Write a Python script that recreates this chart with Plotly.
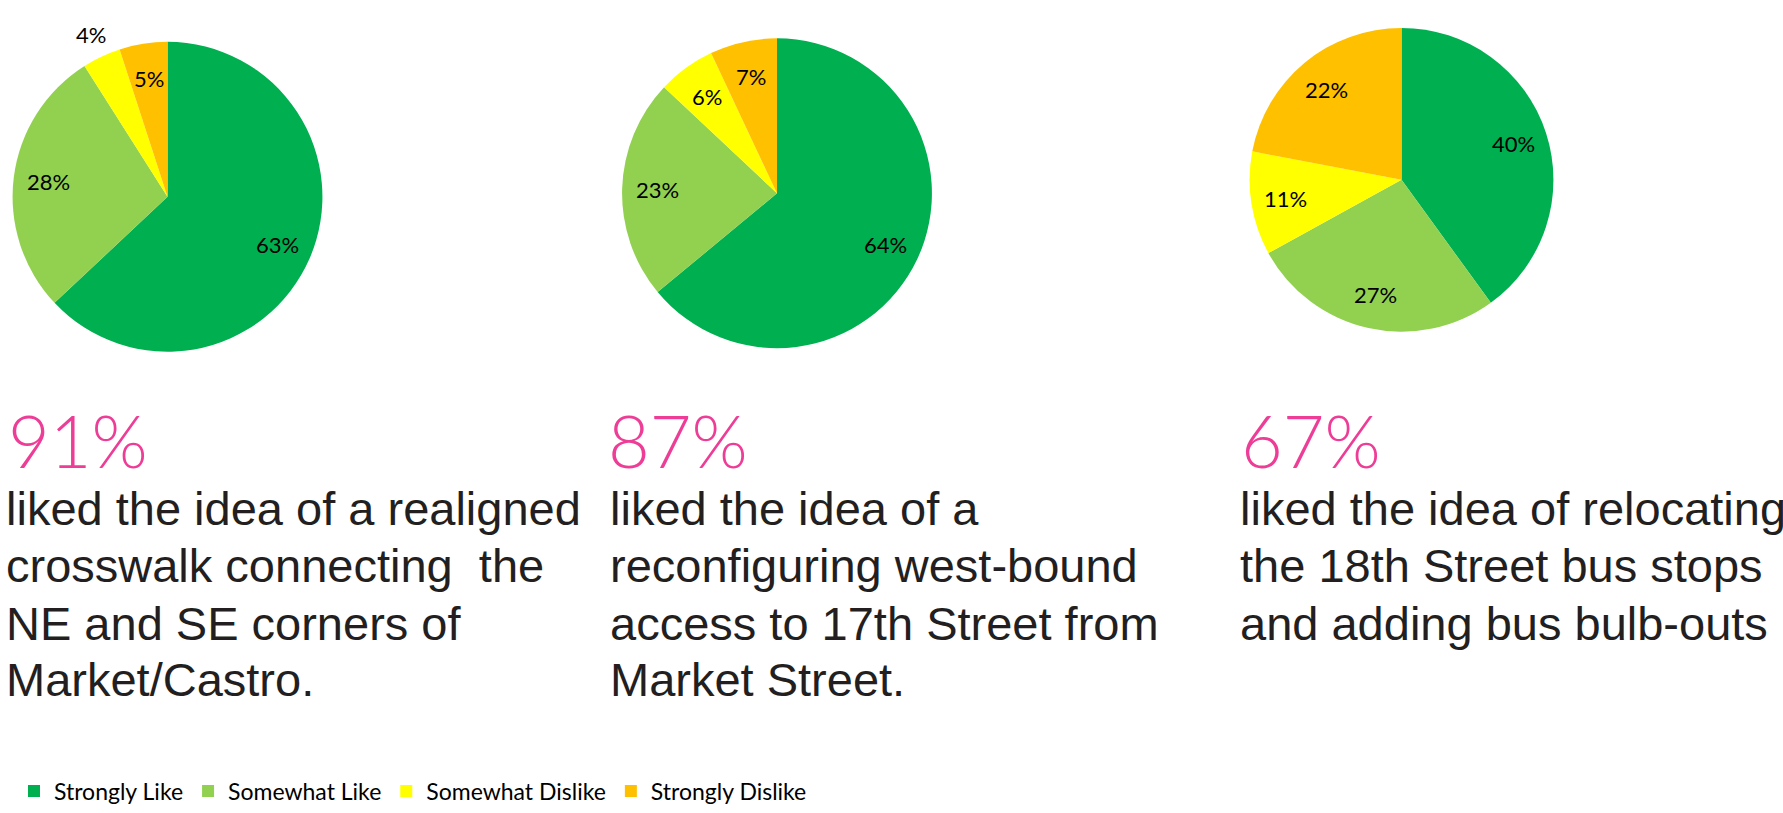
import math
import plotly.graph_objects as go

W, H = 1783, 813

# Response categories and colours
categories = ["Strongly Like", "Somewhat Like", "Somewhat Dislike", "Strongly Dislike"]
colors = ["#00B050", "#92D050", "#FFFF00", "#FFC000"]

# Survey results per proposal (percent)
crosswalk = [63, 28, 4, 5]
westbound = [64, 23, 6, 7]
bus_stops = [40, 27, 11, 22]

# Headline share that liked each idea
headline = ["91%", "87%", "67%"]
captions = [
    ["liked the idea of a realigned", "crosswalk connecting  the", "NE and SE corners of", "Market/Castro."],
    ["liked the idea of a", "reconfiguring west-bound", "access to 17th Street from", "Market Street."],
    ["liked the idea of relocating", "the 18th Street bus stops", "and adding bus bulb-outs"],
]

# Pie placement in pixels: centre x, centre y, radius
pie_boxes = [(167.5, 197.5, 155.5), (777, 194, 155.5), (1401.5, 180.5, 152.5)]
# Slices whose label sits outside the pie
outside = [[False, False, True, False], [False] * 4, [False] * 4]

head_x = [6, 606, 1239]
text_x = [4, 608, 1238]
baselines = [528, 585, 643, 700]

fig = go.Figure()
annotations = []


def px(x):
    return x / W


def py(y):
    return 1 - y / H


for i, vals in enumerate([crosswalk, westbound, bus_stops]):
    cx, cy, r = pie_boxes[i]
    fig.add_trace(go.Pie(
        labels=categories,
        values=vals,
        sort=False,
        direction="clockwise",
        rotation=0,
        marker=dict(colors=colors, line=dict(width=0)),
        textinfo="none",
        domain=dict(x=[px(cx - r), px(cx + r)], y=[py(cy + r), py(cy - r)]),
        showlegend=(i == 0),
        hoverinfo="label+percent",
    ))
    # percentage labels at the middle angle of each slice
    total = sum(vals)
    cum = 0
    for j, v in enumerate(vals):
        mid = (cum + v / 2) / total * 2 * math.pi
        cum += v
        f = 1.16 if outside[i][j] else 0.77
        annotations.append(dict(
            x=px(cx + f * r * math.sin(mid)), y=py(cy - f * r * math.cos(mid)),
            xref="paper", yref="paper", xanchor="center", yanchor="middle",
            showarrow=False, text=f"{v}%",
            font=dict(family="Lato", size=22, color="#000000"),
        ))

for i in range(3):
    annotations.append(dict(
        x=px(head_x[i]), y=py(396), xref="paper", yref="paper",
        xanchor="left", yanchor="top", showarrow=False,
        text=headline[i], align="left",
        font=dict(family="Lato", size=72, color="#EE3D96", weight=300),
    ))
    for k, line in enumerate(captions[i]):
        annotations.append(dict(
            x=px(text_x[i]), y=py(baselines[k] + 11), xref="paper", yref="paper",
            xanchor="left", yanchor="bottom", showarrow=False,
            text=line, align="left",
            font=dict(family="Liberation Sans", size=47, color="#231F20"),
        ))

fig.update_layout(
    width=W, height=H,
    margin=dict(l=0, r=0, t=0, b=0),
    paper_bgcolor="white", plot_bgcolor="white",
    annotations=annotations,
    legend=dict(
        orientation="h", x=px(14), y=py(794), xanchor="left", yanchor="middle",
        font=dict(family="Lato", size=23, color="#000000"),
        itemwidth=30, tracegroupgap=0,
    ),
)

fig.write_html("out.html")
